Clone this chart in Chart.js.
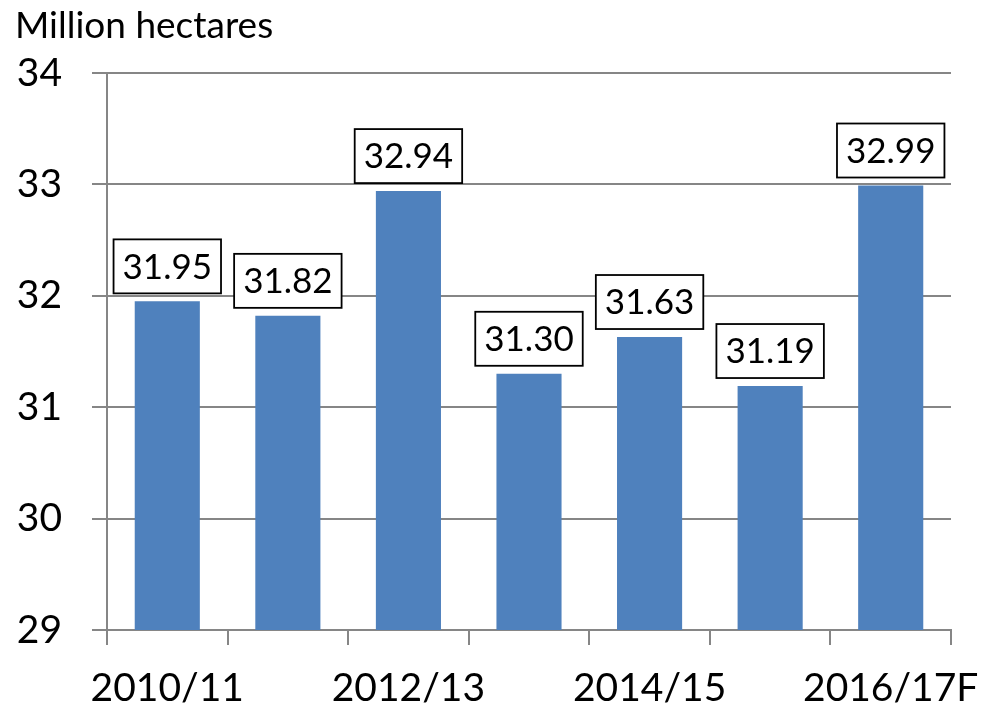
<!DOCTYPE html>
<html>
<head>
<meta charset="utf-8">
<script src="https://cdn.jsdelivr.net/npm/chart.js@4"></script>
<style>
  html, body { margin: 0; padding: 0; background: #fff; }
  #wrap { width: 987px; height: 715px; }
</style>
</head>
<body>
<div id="wrap"><canvas id="areaChart" width="987" height="715"></canvas></div>
<script>
const seasons = ["2010/11", "2011/12", "2012/13", "2013/14", "2014/15", "2015/16", "2016/17F"];
const area = [31.95, 31.82, 32.94, 31.30, 31.63, 31.19, 32.99];
const yTicks = [29, 30, 31, 32, 33, 34];
const unitLabel = "Million hectares";

const FONT = "Lato, 'Open Sans', sans-serif";
const GRID = "#868686";

// boxed value above each bar
const boxLabels = {
  id: "boxLabels",
  afterDatasetsDraw(chart) {
    const ctx = chart.ctx;
    const meta = chart.getDatasetMeta(0);
    ctx.save();
    ctx.font = "35px " + FONT;
    ctx.textAlign = "center";
    ctx.textBaseline = "middle";
    meta.data.forEach((bar, i) => {
      const txt = area[i].toFixed(2);
      const w = ctx.measureText(txt).width + 18;
      const h = 54;
      const bottom = bar.y - 8;
      ctx.fillStyle = "#fff";
      ctx.fillRect(bar.x - w / 2, bottom - h, w, h);
      ctx.lineWidth = 1.8;
      ctx.strokeStyle = "#000";
      ctx.strokeRect(bar.x - w / 2, bottom - h, w, h);
      ctx.fillStyle = "#000";
      ctx.fillText(txt, bar.x, bottom - h / 2 + 1);
    });
    ctx.restore();
  }
};

// unit text in the top-left corner
const unitTitle = {
  id: "unitTitle",
  afterDraw(chart) {
    const ctx = chart.ctx;
    ctx.save();
    ctx.font = "37px " + FONT;
    ctx.fillStyle = "#000";
    ctx.textBaseline = "alphabetic";
    ctx.fillText(unitLabel, 15, 38);
    ctx.restore();
  }
};

new Chart(document.getElementById("areaChart"), {
  type: "bar",
  data: {
    labels: seasons,
    datasets: [{
      data: area,
      backgroundColor: "#4F81BD",
      barPercentage: 0.54,
      categoryPercentage: 1
    }]
  },
  options: {
    responsive: false,
    animation: false,
    devicePixelRatio: 1,
    layout: { padding: { top: 73, right: 36, left: 0, bottom: 0 } },
    plugins: { legend: { display: false }, tooltip: { enabled: false } },
    scales: {
      x: {
        grid: {
          offset: true,
          drawOnChartArea: false,
          drawTicks: true,
          tickLength: 15,
          color: GRID,
          lineWidth: 2
        },
        border: { color: GRID, width: 2 },
        ticks: {
          autoSkip: false,
          maxRotation: 0,
          padding: 20,
          color: "#000",
          font: { family: FONT, size: 39 },
          callback: (v, i) => (i % 2 === 0 ? seasons[i] : "")
        },
        afterFit: (s) => {
          s.height = 85;
          s.paddingLeft = 0;
          s.paddingRight = 0;
        }
      },
      y: {
        min: yTicks[0],
        max: yTicks[yTicks.length - 1],
        afterBuildTicks: (s) => { s.ticks = yTicks.map(v => ({ value: v })); },
        grid: { color: GRID, lineWidth: 2, tickLength: 15 },
        border: { color: GRID, width: 2 },
        ticks: {
          padding: 30,
          color: "#000",
          font: { family: FONT, size: 39 }
        },
        afterFit: (s) => { s.width = 107; }
      }
    }
  },
  plugins: [boxLabels, unitTitle]
});
</script>
</body>
</html>
